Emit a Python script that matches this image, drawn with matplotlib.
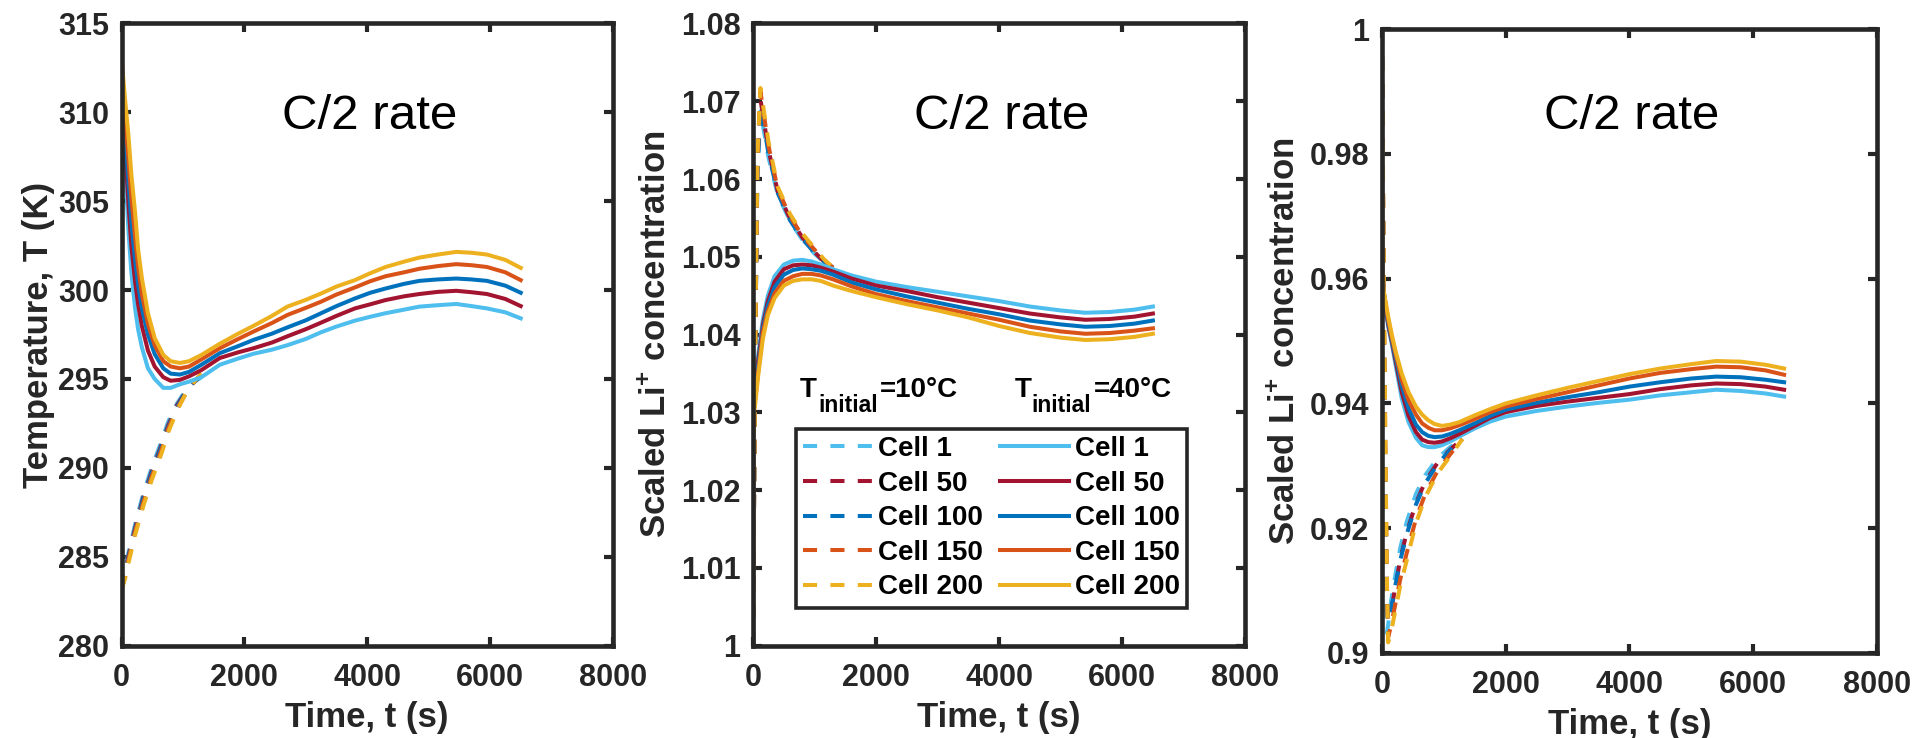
import matplotlib
matplotlib.use('Agg')
import matplotlib.pyplot as plt
from matplotlib.ticker import FuncFormatter, MultipleLocator
from matplotlib.lines import Line2D

plt.rcParams['font.family'] = ['Liberation Sans', 'DejaVu Sans']
plt.rcParams['mathtext.fontset'] = 'custom'
plt.rcParams['mathtext.rm'] = 'Liberation Sans'
plt.rcParams['mathtext.bf'] = 'Liberation Sans:bold'
plt.rcParams['mathtext.it'] = 'Liberation Sans:italic'

# ---------------- data ----------------
cells = ['Cell 1', 'Cell 50', 'Cell 100', 'Cell 150', 'Cell 200']
colors = ['#4DBEEE', '#A2142F', '#0072BD', '#D95319', '#EDB120']

# Panel 1: temperature (K), T_initial = 40 C (solid)
t1_solid = [0, 50, 110, 160, 220, 270, 330, 430, 540, 680, 800, 950, 1100, 1300, 1600, 1900, 2150,
            2450, 2700, 3000, 3250, 3500, 3800, 4050, 4300, 4600, 4850, 5150, 5450, 5700, 5950, 6250, 6500]
T40_cell1 = [313.1, 307.5, 303.5, 301.0, 299.0, 297.8, 296.8, 295.6, 295.0, 294.5, 294.5, 294.7, 294.85,
             295.1, 295.8, 296.15, 296.42, 296.65, 296.9, 297.25, 297.63, 297.95, 298.28, 298.5, 298.7,
             298.9, 299.07, 299.15, 299.22, 299.1, 298.97, 298.75, 298.41]
T40_cell50 = [313.1, 308.5, 305.0, 302.5, 300.5, 299.2, 298.0, 296.6, 295.7, 295.1, 294.9, 294.95, 295.15,
              295.5, 296.18, 296.5, 296.73, 297.05, 297.4, 297.8, 298.17, 298.55, 298.97, 299.2, 299.44,
              299.65, 299.78, 299.9, 299.96, 299.88, 299.78, 299.5, 299.1]
T40_cell100 = [313.1, 309.2, 306.2, 303.8, 301.7, 300.3, 299.0, 297.5, 296.4, 295.6, 295.3, 295.25, 295.4,
               295.8, 296.45, 296.85, 297.2, 297.55, 297.9, 298.3, 298.7, 299.1, 299.53, 299.85, 300.09,
               300.35, 300.52, 300.6, 300.65, 300.6, 300.52, 300.25, 299.85]
T40_cell150 = [313.1, 310.1, 307.5, 305.2, 303.0, 301.3, 299.8, 298.1, 296.9, 296.0, 295.7, 295.6, 295.7,
               296.1, 296.73, 297.25, 297.67, 298.15, 298.6, 299.0, 299.35, 299.75, 300.15, 300.5, 300.78,
               301.0, 301.2, 301.35, 301.46, 301.4, 301.3, 301.0, 300.56]
T40_cell200 = [313.1, 311.0, 308.8, 306.5, 304.4, 302.3, 300.7, 298.7, 297.3, 296.35, 296.0, 295.9, 296.0,
               296.35, 296.98, 297.55, 297.99, 298.55, 299.07, 299.45, 299.81, 300.2, 300.56, 300.95, 301.3,
               301.6, 301.83, 302.0, 302.15, 302.1, 302.0, 301.7, 301.25]

# Panel 1: T_initial = 10 C (dashed)
t1_dash = [0, 60, 110, 220, 350, 490, 650, 760, 900, 1050, 1170, 1300]
T10_cell1 = [283.15, 284.2, 285.2, 286.8, 288.5, 290.0, 291.5, 292.6, 293.6, 294.4, 294.8, 295.1]
T10_cell50 = [283.15, 284.1, 285.0, 286.6, 288.3, 289.8, 291.3, 292.4, 293.5, 294.3, 294.8, 295.2]
T10_cell100 = [283.15, 284.0, 284.9, 286.5, 288.2, 289.7, 291.2, 292.3, 293.4, 294.3, 294.8, 295.2]
T10_cell150 = [283.15, 283.9, 284.8, 286.4, 288.0, 289.5, 291.0, 292.2, 293.3, 294.2, 294.8, 295.3]
T10_cell200 = [283.15, 283.8, 284.6, 286.2, 287.8, 289.3, 290.8, 292.0, 293.2, 294.2, 294.8, 295.3]

# Panel 2: scaled Li+ concentration
t2_solid = [0, 5, 27, 80, 160, 240, 350, 500, 650, 800, 950, 1100, 1300, 1600, 2000,
            2500, 3000, 3500, 4000, 4500, 5000, 5400, 5800, 6200, 6500]
c40_cell1 = [1.0, 1.03, 1.0325, 1.0372, 1.0420, 1.0450, 1.0475, 1.0490, 1.0495, 1.0496, 1.0494, 1.0490, 1.0484,
             1.0476, 1.0468, 1.0461, 1.0455, 1.0449, 1.0443, 1.0436, 1.0431, 1.0428, 1.0429, 1.0432, 1.0436]
c40_cell50 = [1.0, 1.03, 1.0322, 1.0365, 1.0413, 1.0443, 1.0468, 1.0484, 1.0489, 1.0490, 1.0489, 1.0486, 1.0481,
              1.0472, 1.0463, 1.0456, 1.0448, 1.0441, 1.0434, 1.0427, 1.0422, 1.0419, 1.0420, 1.0423, 1.0427]
c40_cell100 = [1.0, 1.03, 1.0318, 1.0358, 1.0408, 1.0437, 1.0461, 1.0477, 1.0483, 1.0485, 1.0484, 1.0482, 1.0477,
               1.0467, 1.0458, 1.0449, 1.0441, 1.0433, 1.0426, 1.0418, 1.0413, 1.0410, 1.0411, 1.0414, 1.0418]
c40_cell150 = [1.0, 1.03, 1.0312, 1.0350, 1.0403, 1.0430, 1.0453, 1.0469, 1.0475, 1.0478, 1.0478, 1.0476, 1.0471,
               1.0462, 1.0452, 1.0443, 1.0435, 1.0427, 1.0419, 1.0410, 1.0404, 1.0401, 1.0402, 1.0405, 1.0408]
c40_cell200 = [1.0, 1.03, 1.0305, 1.0345, 1.0395, 1.0425, 1.0447, 1.0463, 1.0469, 1.0471, 1.0471, 1.0469, 1.0463,
               1.0456, 1.0448, 1.0439, 1.0431, 1.0422, 1.0411, 1.0402, 1.0396, 1.0393, 1.0394, 1.0397, 1.0401]

t2_dash = [0, 30, 70, 120, 250, 400, 600, 800, 1000, 1150, 1300]
c10_cell1 = [1.0, 1.035, 1.060, 1.0687, 1.0628, 1.0580, 1.0546, 1.0522, 1.0504, 1.0493, 1.0486]
c10_cell50 = [1.0, 1.035, 1.062, 1.0702, 1.0638, 1.0584, 1.0549, 1.0525, 1.0506, 1.0494, 1.0486]
c10_cell100 = [1.0, 1.035, 1.061, 1.0695, 1.0633, 1.0582, 1.0547, 1.0523, 1.0505, 1.0494, 1.0486]
c10_cell150 = [1.0, 1.035, 1.062, 1.0712, 1.0643, 1.0587, 1.0552, 1.0527, 1.0509, 1.0496, 1.0486]
c10_cell200 = [1.0, 1.035, 1.063, 1.0717, 1.0648, 1.0590, 1.0555, 1.0530, 1.0511, 1.0497, 1.0486]

# Panel 3: scaled Li+ concentration
t3_solid = [0, 5, 27, 100, 160, 220, 320, 430, 550, 650, 750, 850, 970, 1100, 1250, 1500, 1750,
            2000, 2500, 3000, 3500, 4000, 4500, 5000, 5400, 5800, 6200, 6500]
s40_cell1 = [1.0, 0.962, 0.9578, 0.9524, 0.9495, 0.9462, 0.9408, 0.9370, 0.9345, 0.9333, 0.9330, 0.9330, 0.9333,
             0.9339, 0.9347, 0.9360, 0.9371, 0.9379, 0.9388, 0.9395, 0.9401, 0.9406, 0.9413, 0.9418, 0.9422,
             0.9420, 0.9416, 0.9411]
s40_cell50 = [1.0, 0.962, 0.9578, 0.9527, 0.9499, 0.9468, 0.9418, 0.9380, 0.9354, 0.9342, 0.9338, 0.9337, 0.9339,
              0.9344, 0.9351, 0.9364, 0.9377, 0.9386, 0.9396, 0.9403, 0.9409, 0.9415, 0.9423, 0.9429, 0.9432,
              0.9431, 0.9427, 0.9422]
s40_cell100 = [1.0, 0.962, 0.9579, 0.9530, 0.9502, 0.9474, 0.9428, 0.9392, 0.9366, 0.9354, 0.9348, 0.9346, 0.9347,
               0.9351, 0.9357, 0.9368, 0.9380, 0.9390, 0.9401, 0.9410, 0.9418, 0.9427, 0.9434, 0.9440, 0.9443,
               0.9442, 0.9438, 0.9434]
s40_cell150 = [1.0, 0.962, 0.9580, 0.9535, 0.9506, 0.9480, 0.9438, 0.9405, 0.9382, 0.9368, 0.9361, 0.9357, 0.9357,
               0.9360, 0.9365, 0.9375, 0.9386, 0.9395, 0.9407, 0.9418, 0.9429, 0.9440, 0.9449, 0.9455, 0.9459,
               0.9458, 0.9453, 0.9446]
s40_cell200 = [1.0, 0.962, 0.9581, 0.9540, 0.9510, 0.9484, 0.9448, 0.9418, 0.9395, 0.9382, 0.9373, 0.9367, 0.9364,
               0.9366, 0.9370, 0.9381, 0.9391, 0.9400, 0.9413, 0.9425, 0.9436, 0.9447, 0.9456, 0.9463, 0.9468,
               0.9467, 0.9462, 0.9456]

t3_dash = [0, 30, 60, 80, 100, 150, 220, 300, 400, 550, 700, 900, 1100, 1300]
s10_cell1 = [1.0, 0.950, 0.915, 0.9032, 0.9045, 0.9085, 0.9127, 0.9170, 0.9210, 0.9255, 0.9285, 0.9312, 0.9330, 0.9343]
s10_cell50 = [1.0, 0.955, 0.922, 0.9080, 0.9055, 0.9068, 0.9108, 0.9152, 0.9193, 0.9240, 0.9275, 0.9305, 0.9326, 0.9343]
s10_cell100 = [1.0, 0.955, 0.924, 0.9090, 0.9050, 0.9070, 0.9110, 0.9150, 0.9190, 0.9238, 0.9272, 0.9303, 0.9325, 0.9343]
s10_cell150 = [1.0, 0.958, 0.928, 0.9110, 0.9025, 0.9045, 0.9080, 0.9120, 0.9160, 0.9215, 0.9255, 0.9292, 0.9318, 0.9343]
s10_cell200 = [1.0, 0.960, 0.930, 0.9120, 0.9017, 0.9035, 0.9070, 0.9110, 0.9148, 0.9208, 0.9250, 0.9288, 0.9315, 0.9343]

# ---------------- styling ----------------
DARK = '#262626'
LW = 2.9
DASH = (3.5, 3.3)
TICK_FS = 22
LABEL_FS = 25
TITLE_FS = 35.5
LEG_FS = 20

fig = plt.figure(figsize=(19.29, 7.38), dpi=100)
ax1 = fig.add_axes([0.0630, 0.1252, 0.2547, 0.8430])
ax2 = fig.add_axes([0.3904, 0.1252, 0.2551, 0.8430])
ax3 = fig.add_axes([0.7164, 0.1152, 0.2566, 0.8453])

fmt = FuncFormatter(lambda v, p: f'{v:g}')


def style(ax, ylim, ystep, ylabel, ylab_x, xlab_y, title_y):
    ax.set_xlim(0, 8000)
    ax.set_ylim(*ylim)
    ax.xaxis.set_major_locator(MultipleLocator(2000))
    ax.yaxis.set_major_locator(MultipleLocator(ystep))
    ax.xaxis.set_major_formatter(fmt)
    ax.yaxis.set_major_formatter(fmt)
    for s in ax.spines.values():
        s.set_linewidth(3.3)
        s.set_color(DARK)
    ax.tick_params(direction='in', length=6.5, width=3.0, color=DARK,
                   top=True, right=True, labelsize=TICK_FS, labelcolor=DARK)
    ax.tick_params(axis='x', pad=12.5)
    ax.tick_params(axis='y', pad=9)
    for lab in ax.get_xticklabels() + ax.get_yticklabels():
        lab.set_fontweight('bold')
    ax.set_xlabel('Time, t (s)', fontsize=LABEL_FS, fontweight='bold', color=DARK, va='center')
    ax.xaxis.set_label_coords(0.5, xlab_y)
    ax.set_ylabel(ylabel, fontsize=LABEL_FS, fontweight='bold', color=DARK, va='center')
    ax.yaxis.set_label_coords(ylab_x, 0.5)
    ax.text(0.505, title_y, 'C/2 rate', transform=ax.transAxes, fontsize=TITLE_FS,
            ha='center', va='center', color='black')


def draw(ax, td, dashed, ts, solid):
    for y, c in zip(dashed, colors):
        ax.plot(td, y, color=c, lw=LW, dashes=DASH)
    for y, c in zip(solid, colors):
        ax.plot(ts, y, color=c, lw=LW)


draw(ax1, t1_dash, [T10_cell1, T10_cell50, T10_cell100, T10_cell150, T10_cell200],
     t1_solid, [T40_cell1, T40_cell50, T40_cell100, T40_cell150, T40_cell200])
draw(ax2, t2_dash, [c10_cell1, c10_cell50, c10_cell100, c10_cell150, c10_cell200],
     t2_solid, [c40_cell1, c40_cell50, c40_cell100, c40_cell150, c40_cell200])
draw(ax3, t3_dash, [s10_cell1, s10_cell50, s10_cell100, s10_cell150, s10_cell200],
     t3_solid, [s40_cell1, s40_cell50, s40_cell100, s40_cell150, s40_cell200])

li_label = r'Scaled Li$^{\mathbf{+}}$ concentration'
style(ax1, (280, 315), 5, 'Temperature, T (K)', -0.168, -0.1157, 0.850)
style(ax2, (1.0, 1.08), 0.01, li_label, -0.199, -0.1157, 0.850)
style(ax3, (0.9, 1.0), 0.02, li_label, -0.196, -0.1154, 0.860)

# legend in panel 2
handles = [Line2D([], [], color=c, lw=LW, dashes=DASH) for c in colors] + \
          [Line2D([], [], color=c, lw=LW) for c in colors]
labels = cells + cells
leg = ax2.legend(handles, labels, ncol=2, loc='lower left', bbox_to_anchor=(0.0864, 0.0605),
                 borderaxespad=0, frameon=True, fancybox=False, framealpha=1,
                 prop={'size': LEG_FS, 'weight': 'bold'}, handlelength=2.48, handletextpad=0.22,
                 columnspacing=0.6, labelspacing=0.31, borderpad=0.27)
leg.get_frame().set_edgecolor(DARK)
leg.get_frame().set_linewidth(2.6)
for txt in leg.get_texts():
    txt.set_color('black')

# legend group headers
for x_T, x_sub, x_rest, rest in [(0.0955, 0.1321, 0.2581, '=10°C'), (0.5325, 0.5664, 0.6931, '=40°C')]:
    ax2.text(x_T, 0.4001, 'T', transform=ax2.transAxes, fontsize=LEG_FS, fontweight='bold',
             ha='left', va='baseline')
    ax2.text(x_sub, 0.3760, 'initial', transform=ax2.transAxes, fontsize=16.5, fontweight='bold',
             ha='left', va='baseline')
    ax2.text(x_rest, 0.4001, rest, transform=ax2.transAxes, fontsize=LEG_FS, fontweight='bold',
             ha='left', va='baseline')

fig.savefig('out.png', dpi=100)
